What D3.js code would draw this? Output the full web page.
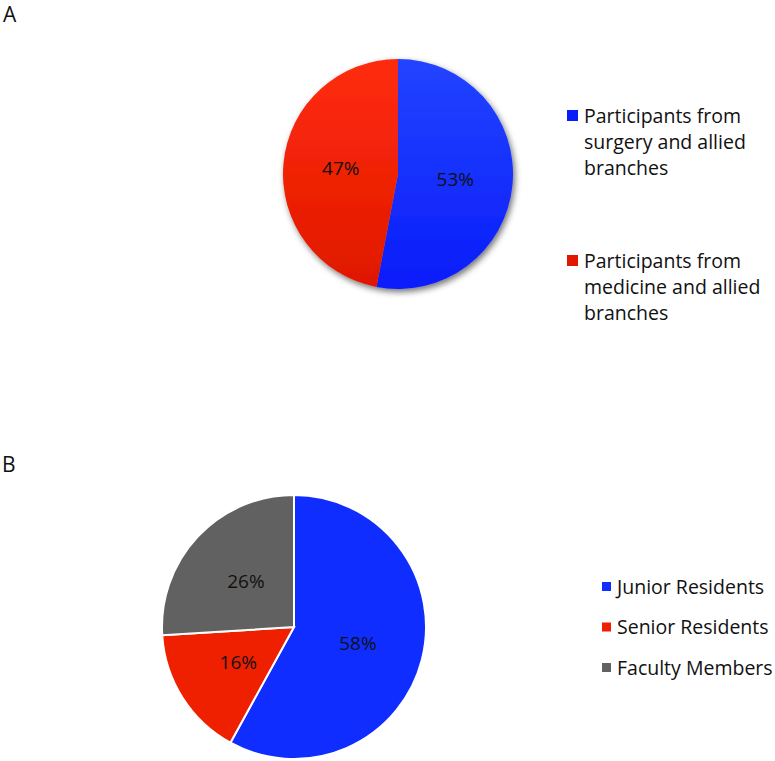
<!DOCTYPE html>
<meta charset="utf-8">
<head lang="en">
    <title></title>
    <script src="https://d3js.org/d3.v7.min.js"></script>
    <style type="text/css">
        body { margin: 0; background: #fff; }
        text { font-family: "Open Sans", sans-serif; fill: #111; }
        .panel { font-size: 21px; }
        .pct { font-size: 19px; }
        .leg { font-size: 19.5px; }
    </style>
</head>
<body>
<script>
    // panel A
    var labelsA = [
        ["Participants from", "surgery and allied", "branches"],
        ["Participants from", "medicine and allied", "branches"]
    ];
    var valuesA = [53, 47];
    var colorsA = [["#2244ff", "#0a1cfa"], ["#ff2c0c", "#e01800"]];

    // panel B
    var labelsB = ["Junior Residents", "Senior Residents", "Faculty Members"];
    var valuesB = [58, 16, 26];
    var colorsB = ["#0f2dff", "#ee2000", "#616161"];

    var width = 775, height = 761;
    var svg = d3.select("body").append("svg")
        .attr("width", width)
        .attr("height", height);

    var defs = svg.append("defs");
    defs.append("filter")
        .attr("id", "shadow")
        .attr("x", "-20%").attr("y", "-20%")
        .attr("width", "140%").attr("height", "140%")
        .append("feDropShadow")
        .attr("dx", 2).attr("dy", 3)
        .attr("stdDeviation", 3)
        .attr("flood-color", "#000")
        .attr("flood-opacity", 0.55);

    colorsA.forEach(function (c, i) {
        var g = defs.append("linearGradient")
            .attr("id", "gradA" + i)
            .attr("x1", 0).attr("y1", 0)
            .attr("x2", 0).attr("y2", 1);
        g.append("stop").attr("offset", "0%").attr("stop-color", c[0]);
        g.append("stop").attr("offset", "100%").attr("stop-color", c[1]);
    });

    var pie = d3.pie().sort(null).value(function (d) { return d; });

    //*****pie A
    var rA = 115;
    var gA = svg.append("g").attr("transform", "translate(398,174)");
    var arcA = d3.arc().innerRadius(0).outerRadius(rA);
    var slicesA = pie(valuesA);
    gA.append("g")
        .attr("filter", "url(#shadow)")
        .selectAll("path")
        .data(slicesA)
        .enter()
        .append("path")
        .attr("d", arcA)
        .attr("fill", function (d, i) { return "url(#gradA" + i + ")"; });
    gA.selectAll(".pct")
        .data(slicesA)
        .enter()
        .append("text")
        .attr("class", "pct")
        .attr("transform", function (d) { return "translate(" + arcA.centroid(d) + ")"; })
        .attr("text-anchor", "middle")
        .attr("dy", "0.35em")
        .text(function (d) { return d.data + "%"; });

    // legend A
    var legA = svg.selectAll(".legA")
        .data(labelsA)
        .enter()
        .append("g")
        .attr("class", "legA")
        .attr("transform", function (d, i) { return "translate(567," + (110 + i * 145) + ")"; });
    legA.append("rect")
        .attr("width", 11).attr("height", 11)
        .attr("fill", function (d, i) { return colorsA[i][1]; });
    legA.each(function (lines) {
        d3.select(this).selectAll("text")
            .data(lines)
            .enter()
            .append("text")
            .attr("class", "leg")
            .attr("x", 17)
            .attr("y", function (d, j) { return 6 + j * 26; })
            .attr("dy", "0.35em")
            .text(function (d) { return d; });
    });

    //*****pie B
    var rB = 132;
    var gB = svg.append("g").attr("transform", "translate(294,627)");
    var arcB = d3.arc().innerRadius(0).outerRadius(rB);
    var slicesB = pie(valuesB);
    gB.selectAll("path")
        .data(slicesB)
        .enter()
        .append("path")
        .attr("d", arcB)
        .attr("fill", function (d, i) { return colorsB[i]; })
        .attr("stroke", "#fff")
        .attr("stroke-width", 2);
    gB.selectAll(".pct")
        .data(slicesB)
        .enter()
        .append("text")
        .attr("class", "pct")
        .attr("transform", function (d) { return "translate(" + arcB.centroid(d) + ")"; })
        .attr("text-anchor", "middle")
        .attr("dy", "0.35em")
        .text(function (d) { return d.data + "%"; });

    // legend B
    var legB = svg.selectAll(".legB")
        .data(labelsB)
        .enter()
        .append("g")
        .attr("class", "legB")
        .attr("transform", function (d, i) { return "translate(602," + (582 + i * 40.5) + ")"; });
    legB.append("rect")
        .attr("width", 9).attr("height", 9)
        .attr("fill", function (d, i) { return colorsB[i]; });
    legB.append("text")
        .attr("class", "leg")
        .attr("x", 15)
        .attr("y", 5)
        .attr("dy", "0.35em")
        .text(function (d) { return d; });

    // panel letters
    svg.append("text").attr("class", "panel").attr("x", 3).attr("y", 22).text("A");
    svg.append("text").attr("class", "panel").attr("x", 2).attr("y", 472).text("B");
</script>
</body>
